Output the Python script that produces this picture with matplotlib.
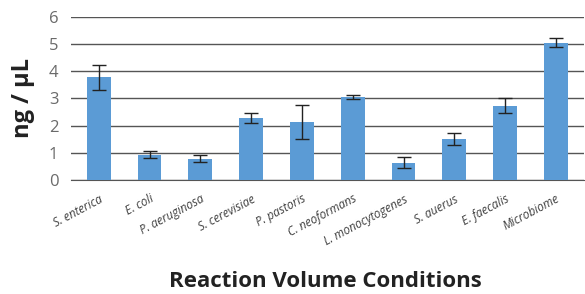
import matplotlib
matplotlib.use("Agg")
import matplotlib.pyplot as plt

categories = ["S. enterica", "E. coli", "P. aeruginosa", "S. cerevisiae", "P. pastoris",
              "C. neoformans", "L. monocytogenes", "S. auerus", "E. faecalis", "Microbiome"]
values = [3.77, 0.93, 0.78, 2.28, 2.14, 3.05, 0.64, 1.52, 2.73, 5.05]
errors = [0.47, 0.12, 0.12, 0.19, 0.62, 0.07, 0.21, 0.22, 0.28, 0.17]
yticks = [0, 1, 2, 3, 4, 5, 6]

plt.rcParams['font.family'] = ['Open Sans', 'DejaVu Sans']

fig = plt.figure(figsize=(5.85, 2.94), dpi=100)
ax = fig.add_axes([0.121, 0.388, 0.877, 0.555])

x = range(len(categories))
ax.bar(x, values, width=0.47, color="#5B9BD5", zorder=3,
       yerr=errors, error_kw=dict(ecolor="#222222", elinewidth=1.0, capsize=5, capthick=1.0))

ax.set_ylim(0, 6)
ax.set_xlim(-0.55, len(categories) - 0.45)
ax.set_yticks(yticks)
ax.set_yticklabels([str(t) for t in yticks], fontsize=12, color="#6a6a6a")
ax.yaxis.grid(True, color="#555555", linewidth=1.0, zorder=0)
ax.set_axisbelow(True)
for s in ["top", "right", "left"]:
    ax.spines[s].set_visible(False)
ax.spines["bottom"].set_color("#555555")
ax.tick_params(axis="y", length=0, pad=9)
ax.tick_params(axis="x", length=0, pad=9)

ax.set_xticks(list(x))
ax.set_xticklabels(categories, rotation=28, ha="right", rotation_mode="anchor",
                   fontsize=8.5, style="italic", color="#404040")

ax.set_ylabel("ng / µL", fontsize=17, fontweight="bold", color="#222222", labelpad=10)
fig.text(0.556, 0.006, "Reaction Volume Conditions", fontsize=16, fontweight="bold",
         color="#222222", ha="center", va="bottom")

fig.savefig("out.png", dpi=100)
